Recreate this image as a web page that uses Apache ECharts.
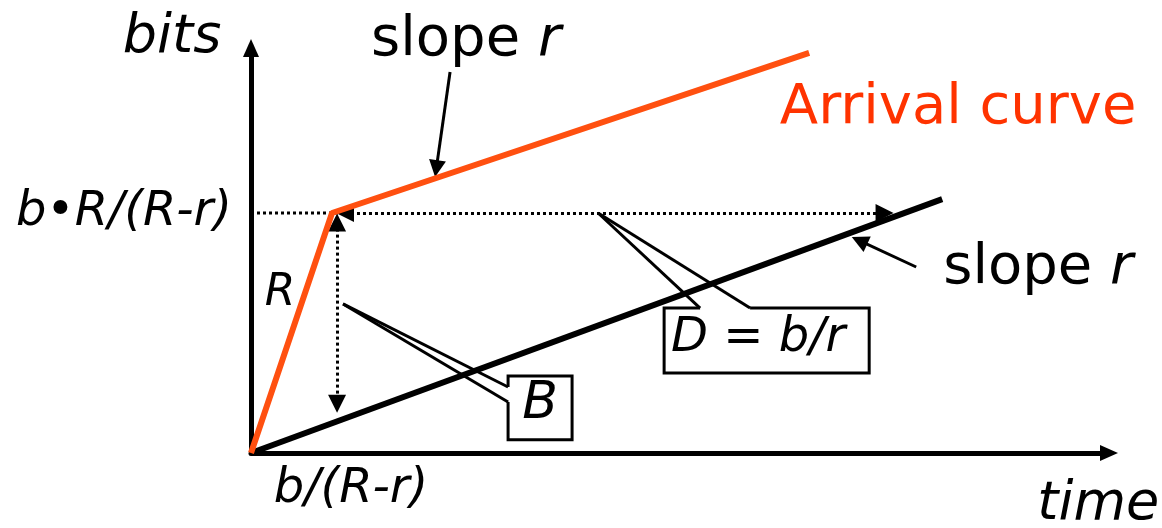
<!DOCTYPE html>
<html>
<head>
<meta charset="utf-8">
<script src="https://cdn.jsdelivr.net/npm/echarts@6/dist/echarts.min.js"></script>
<style>
  html, body { margin: 0; padding: 0; background: #fff; }
  #chart { width: 1162px; height: 528px; }
</style>
</head>
<body>
<div id="chart"></div>
<script>
// time unit: knee at b/(R-r) = 1, bits unit: knee at b*R/(R-r) = 1
var arrivalCurve = [[0, 0], [1, 1], [6.889, 1.667]];
var serviceCurve = [[0, 0], [8.531, 1.058]];

var guideLine = [[0, 1], [1.1, 1]];
var delayArrow = [[1.16, 1], [7.82, 1]];
var backlogArrow = [[1.062, 0.96], [1.062, 0.205]];

var slopeArrows = [
    [[2.457, 1.5875], [2.287, 1.185]],
    [[8.21, 0.775], [7.51, 0.885]]
];

// callout boxes with their wedges
var calloutB = [[3.173, 0.275], [3.173, 0.321], [3.963, 0.321], [3.963, 0.055], [3.173, 0.055], [3.173, 0.2125]];
var wedgeB = [[[1.136, 0.621], [3.173, 0.275]], [[1.136, 0.621], [3.173, 0.2125]]];
var calloutD = [[5.543, 0.604], [5.099, 0.604], [5.099, 0.333], [7.63, 0.333], [7.63, 0.604], [6.16, 0.604]];
var wedgeD = [[[4.284, 1.0], [5.543, 0.604]], [[4.284, 1.0], [6.16, 0.604]]];

var labels = [
    { text: 'bits', pos: [-0.975, 1.73], size: 54, italic: true },
    { text: '{n|slope }{i|r}', pos: [2.654, 1.721], size: 56 },
    { text: 'Arrival curve', pos: [8.728, 1.4375], size: 56, color: '#ff3300' },
    { text: '{n|slope }{i|r}', pos: [9.716, 0.771], size: 56 },
    { text: 'b\u2022R/(R-r)', pos: [-1.568, 1.0], size: 48, italic: true },
    { text: 'R', pos: [0.358, 0.6625], size: 44, italic: true },
    { text: 'B', pos: [3.568, 0.204], size: 52, italic: true },
    { text: 'D = b/r', pos: [6.259, 0.479], size: 48, italic: true },
    { text: 'b/(R-r)', pos: [1.235, -0.152], size: 48, italic: true },
    { text: 'time', pos: [10.457, -0.215], size: 54, italic: true }
];

var FONT = '"DejaVu Sans", Verdana, sans-serif';

function toLines(list) {
    return list.map(function (c) { return { coords: c }; });
}

var chart = echarts.init(document.getElementById('chart'));

var option = {
    animation: false,
    backgroundColor: '#fff',
    grid: { left: 251, top: 48, right: 53, bottom: 75 },
    xAxis: {
        type: 'value',
        min: 0,
        max: 10.59,
        splitLine: { show: false },
        axisTick: { show: false },
        axisLabel: { show: false },
        axisLine: {
            symbol: ['none', 'triangle'],
            symbolSize: [16, 18],
            lineStyle: { color: '#000', width: 5 }
        }
    },
    yAxis: {
        type: 'value',
        min: 0,
        max: 1.6875,
        splitLine: { show: false },
        axisTick: { show: false },
        axisLabel: { show: false },
        axisLine: {
            show: true,
            symbol: ['none', 'triangle'],
            symbolSize: [16, 18],
            lineStyle: { color: '#000', width: 5 }
        }
    },
    series: [
        {
            type: 'lines',
            coordinateSystem: 'cartesian2d',
            polyline: true,
            symbol: 'none',
            lineStyle: { color: '#000', width: 3, type: [3, 3], opacity: 1 },
            data: toLines([guideLine])
        },
        {
            type: 'lines',
            coordinateSystem: 'cartesian2d',
            symbol: ['triangle', 'triangle'],
            symbolSize: 18,
            lineStyle: { color: '#000', width: 3, type: [3, 3], opacity: 1 },
            data: toLines([delayArrow, backlogArrow])
        },
        {
            type: 'lines',
            coordinateSystem: 'cartesian2d',
            symbol: ['none', 'triangle'],
            symbolSize: 17,
            lineStyle: { color: '#000', width: 3, opacity: 1 },
            data: toLines(slopeArrows)
        },
        {
            type: 'lines',
            coordinateSystem: 'cartesian2d',
            polyline: true,
            symbol: 'none',
            lineStyle: { color: '#000', width: 3, opacity: 1 },
            data: toLines([calloutB, calloutD].concat(wedgeB, wedgeD))
        },
        {
            name: 'Service',
            type: 'line',
            symbol: 'none',
            lineStyle: { color: '#000', width: 6 },
            data: serviceCurve
        },
        {
            name: 'Arrival curve',
            type: 'line',
            symbol: 'none',
            lineStyle: { color: '#ff5010', width: 6 },
            data: arrivalCurve
        }
    ]
};

chart.setOption(option);

var texts = labels.map(function (l) {
    var p = chart.convertToPixel({ gridIndex: 0 }, l.pos);
    var color = l.color || '#000';
    return {
        type: 'text',
        x: p[0],
        y: p[1],
        z: 10,
        style: {
            text: l.text,
            fill: color,
            font: (l.italic ? 'italic ' : '') + l.size + 'px ' + FONT,
            align: 'center',
            verticalAlign: 'middle',
            rich: {
                n: { fontSize: l.size, fontFamily: FONT, fill: color },
                i: { fontSize: l.size, fontFamily: FONT, fontStyle: 'italic', fill: color }
            }
        }
    };
});

chart.setOption({ graphic: texts });
</script>
</body>
</html>
